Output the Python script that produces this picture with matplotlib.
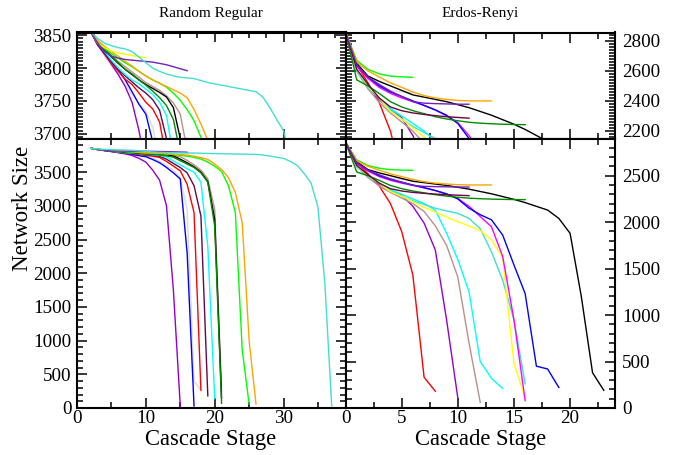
import numpy as np
import matplotlib
matplotlib.use("Agg")
import matplotlib.pyplot as plt
from matplotlib.ticker import MultipleLocator

plt.rcParams["font.family"] = ["Liberation Serif", "DejaVu Serif"]

# ---------------- Random Regular cascades (first stage = 2) ----------------
rr_start = 2
rr_violet = [3855, 3836, 3821, 3806, 3790, 3772, 3748, 3705, 3650, 3530, 3380, 3000, 1750, 30]
rr_blue = [3855, 3835, 3822, 3810, 3797, 3782, 3764, 3745, 3730, 3688, 3640, 3570, 3490, 3400, 2300, 30]
rr_grey = [3855, 3834, 3818, 3803, 3790, 3775, 3760, 3746, 3735, 3710, 3660, 3600, 3530, 3420, 2950, 400, 260]
rr_red = [3855, 3836, 3822, 3808, 3795, 3783, 3775, 3762, 3748, 3738, 3718, 3660, 3590, 3520, 3320, 2900, 265]
rr_maroon = [3855, 3837, 3823, 3810, 3798, 3788, 3779, 3770, 3762, 3752, 3736, 3693, 3630, 3570, 3490, 3300, 2850, 180]
rr_cyan = [3855, 3838, 3825, 3812, 3800, 3790, 3782, 3776, 3768, 3760, 3748, 3728, 3665, 3610, 3550, 3500, 3350, 2400, 140]
rr_green4 = [3855, 3840, 3828, 3818, 3808, 3798, 3791, 3782, 3774, 3765, 3755, 3743, 3722, 3670, 3620, 3570, 3490, 3350, 2700, 70]
rr_black = [3855, 3840, 3828, 3817, 3807, 3798, 3790, 3782, 3775, 3769, 3763, 3756, 3740, 3693, 3640, 3580, 3500, 3360, 2800, 150]
rr_brown = [3855, 3840, 3829, 3819, 3810, 3802, 3794, 3786, 3778, 3772, 3766, 3758, 3747, 3730, 3675, 3610, 3530, 3400, 2950, 250]
rr_lime = [3855, 3840, 3830, 3822, 3815, 3808, 3802, 3795, 3788, 3782, 3777, 3771, 3762, 3751, 3737, 3720, 3695,
           3650, 3590, 3510, 3300, 2900, 860, 60]
rr_orange = [3855, 3842, 3833, 3825, 3818, 3810, 3803, 3795, 3788, 3782, 3777, 3772, 3767, 3762, 3755, 3737, 3715,
             3690, 3620, 3540, 3420, 3200, 2750, 1000, 60]
rr_turquoise = [3855, 3845, 3838, 3834, 3831, 3829, 3825, 3817, 3808, 3800, 3795, 3791, 3788, 3786, 3785, 3784,
                3781, 3778, 3776, 3774, 3772, 3770, 3768, 3766, 3764, 3756, 3740, 3722, 3705, 3660, 3600, 3480,
                3340, 2980, 1850, 30]
rr_yellow = [3855, 3838, 3831, 3826, 3823, 3821, 3819, 3817, 3816]
rr_indigo = [3855, 3838, 3825, 3818, 3815, 3813, 3812, 3811, 3810, 3809, 3807, 3805, 3802, 3799, 3796]

# ---------------- Erdos-Renyi cascades (first stage = 0) ----------------
er_start = 0
er_red = [2860, 2640, 2520, 2390, 2200, 1900, 1430, 330, 180]
er_violet = [2860, 2600, 2500, 2410, 2340, 2290, 2170, 1990, 1700, 950, 110]
er_brown = [2860, 2600, 2480, 2390, 2320, 2260, 2200, 2115, 1960, 1750, 1410, 700, 60]
er_cyan = [2860, 2600, 2490, 2420, 2350, 2300, 2250, 2200, 2130, 1880, 1600, 1250, 500, 320, 210]
er_turquoise = [2860, 2600, 2500, 2420, 2340, 2280, 2230, 2190, 2150, 2120, 2095, 2040, 1930, 1680, 1375, 950, 260]
er_yellow = [2860, 2610, 2500, 2420, 2330, 2280, 2220, 2160, 2110, 2055, 2005, 1960, 1910, 1810, 1620, 480, 110]
er_magenta = [2860, 2630, 2550, 2490, 2450, 2420, 2395, 2370, 2340, 2300, 2255, 2170, 2060, 1950, 1630, 950, 80]
er_blue = [2860, 2640, 2560, 2500, 2460, 2430, 2400, 2370, 2340, 2305, 2250, 2150, 2080, 2025, 1860, 1540, 1230,
           450, 420, 220]
er_black = [2860, 2650, 2565, 2530, 2500, 2470, 2440, 2425, 2410, 2395, 2375, 2355, 2330, 2305, 2275, 2245, 2210,
            2170, 2130, 2040, 1880, 1200, 380, 190]
er_lime = [2860, 2670, 2610, 2580, 2565, 2560, 2557]
er_orange = [2860, 2660, 2600, 2560, 2520, 2490, 2460, 2435, 2420, 2410, 2403, 2400, 2400, 2400]
er_green4 = [2860, 2540, 2500, 2450, 2395, 2360, 2335, 2315, 2295, 2280, 2268, 2258, 2252, 2248, 2245, 2243, 2242]
er_maroon = [2860, 2610, 2510, 2420, 2360, 2335, 2320, 2310, 2302, 2295, 2290, 2285]
er_indigo = [2860, 2640, 2560, 2510, 2465, 2430, 2395, 2385, 2382, 2380, 2378, 2378]
er_grey = [2860, 2630, 2550, 2500, 2470, 2460, 2455]

# Grace-style palette
C = {
    "black": "#000000", "red": "#ff0000", "lime": "#00ff00", "blue": "#0000ff",
    "yellow": "#ffff00", "brown": "#bc8f8f", "grey": "#dcdcdc", "violet": "#9400d3",
    "cyan": "#00ffff", "magenta": "#ff00ff", "orange": "#ffa500", "indigo": "#7221bc",
    "maroon": "#670748", "turquoise": "#40e0d0", "green4": "#008b00",
}

rr_series = [
    ("grey", rr_grey), ("violet", rr_violet), ("blue", rr_blue), ("red", rr_red),
    ("maroon", rr_maroon), ("cyan", rr_cyan), ("brown", rr_brown), ("black", rr_black),
    ("green4", rr_green4), ("lime", rr_lime), ("orange", rr_orange), ("yellow", rr_yellow),
    ("indigo", rr_indigo), ("turquoise", rr_turquoise),
]
er_series = [
    ("grey", er_grey), ("red", er_red), ("violet", er_violet), ("brown", er_brown),
    ("cyan", er_cyan), ("turquoise", er_turquoise), ("yellow", er_yellow), ("magenta", er_magenta),
    ("blue", er_blue), ("black", er_black), ("lime", er_lime), ("orange", er_orange),
    ("green4", er_green4), ("maroon", er_maroon), ("indigo", er_indigo),
]

W, H = 675, 455
fig = plt.figure(figsize=(W / 100, H / 100), dpi=100)

xl, xm, xr = 77 / W, 345.5 / W, 615 / W
y_top_hi, y_mid, y_bot = 1 - 32.5 / H, 1 - 138.5 / H, 1 - 408 / H

ax_rr_top = fig.add_axes([xl, y_mid, xm - xl, y_top_hi - y_mid])
ax_er_top = fig.add_axes([xm, y_mid, xr - xm, y_top_hi - y_mid])
ax_rr_bot = fig.add_axes([xl, y_bot, xm - xl, y_mid - y_bot])
ax_er_bot = fig.add_axes([xm, y_bot, xr - xm, y_mid - y_bot])

for ax in (ax_rr_top, ax_rr_bot):
    for name, vals in rr_series:
        st = np.arange(rr_start, rr_start + len(vals))
        ax.plot(st, vals, color=C[name], lw=1.0, clip_on=True)
    ax.set_xlim(0, 39)
    ax.xaxis.set_major_locator(MultipleLocator(10))
    ax.xaxis.set_minor_locator(MultipleLocator(5))

for ax in (ax_er_top, ax_er_bot):
    for name, vals in er_series:
        st = np.arange(er_start, er_start + len(vals))
        ax.plot(st, vals, color=C[name], lw=1.0, clip_on=True)
    ax.set_xlim(0, 24)
    ax.xaxis.set_major_locator(MultipleLocator(5))
    ax.xaxis.set_minor_locator(MultipleLocator(2.5))

ax_rr_top.set_ylim(3693, 3854)
ax_rr_top.yaxis.set_major_locator(MultipleLocator(50))
ax_rr_top.yaxis.set_minor_locator(MultipleLocator(5))

ax_rr_bot.set_ylim(0, 4000)
ax_rr_bot.set_yticks([0, 500, 1000, 1500, 2000, 2500, 3000, 3500])
ax_rr_bot.yaxis.set_minor_locator(MultipleLocator(100))

ax_er_top.set_ylim(2150, 2855)
ax_er_top.set_yticks([2200, 2400, 2600, 2800])
ax_er_top.yaxis.set_minor_locator(MultipleLocator(20))

ax_er_bot.set_ylim(0, 2900)
ax_er_bot.set_yticks([0, 500, 1000, 1500, 2000, 2500])
ax_er_bot.yaxis.set_minor_locator(MultipleLocator(100))

TICK_FS = 13.8
for ax in (ax_rr_top, ax_er_top, ax_rr_bot, ax_er_bot):
    for s in ax.spines.values():
        s.set_linewidth(1.5)
    ax.tick_params(which="both", direction="in", top=True, bottom=True, left=True, right=True,
                   labelsize=TICK_FS, width=1.1)
    ax.tick_params(which="major", length=7.5)
    ax.tick_params(which="minor", length=4)
    ax.tick_params(axis="x", pad=1.5)

ax_rr_top.tick_params(labelbottom=False, pad=4)
ax_rr_top.tick_params(axis="y", pad=4)
ax_er_top.tick_params(labelbottom=False, labelleft=False, labelright=True)
ax_er_top.tick_params(axis="y", pad=5)
ax_rr_bot.tick_params(axis="y", pad=4)
ax_er_bot.tick_params(labelleft=False, labelright=True)
ax_er_bot.tick_params(axis="y", pad=5)

# finer tick marks along the upper edge of the Random Regular zoom panel
ax_rr_top.tick_params(which="both", top=False)
sec = ax_rr_top.secondary_xaxis("top")
sec.xaxis.set_major_locator(MultipleLocator(10))
sec.xaxis.set_minor_locator(MultipleLocator(2.5))
sec.tick_params(which="both", direction="in", labeltop=False, width=1.1)
sec.tick_params(which="major", length=7.5)
sec.tick_params(which="minor", length=4)
sec.spines["top"].set_linewidth(1.5)

fig.text(211 / W, 1 - 13 / H, "Random Regular", ha="center", va="center", fontsize=11)
fig.text(480.5 / W, 1 - 13 / H, "Erdos-Renyi", ha="center", va="center", fontsize=11)
fig.text(211 / W, 1 - 440 / H, "Cascade Stage", ha="center", va="center", fontsize=16.3)
fig.text(480.5 / W, 1 - 440 / H, "Cascade Stage", ha="center", va="center", fontsize=16.3)
fig.text(23 / W, 1 - 208 / H, "Network Size", ha="center", va="center", rotation=90, fontsize=16.5)

fig.savefig("out.png", dpi=100)
